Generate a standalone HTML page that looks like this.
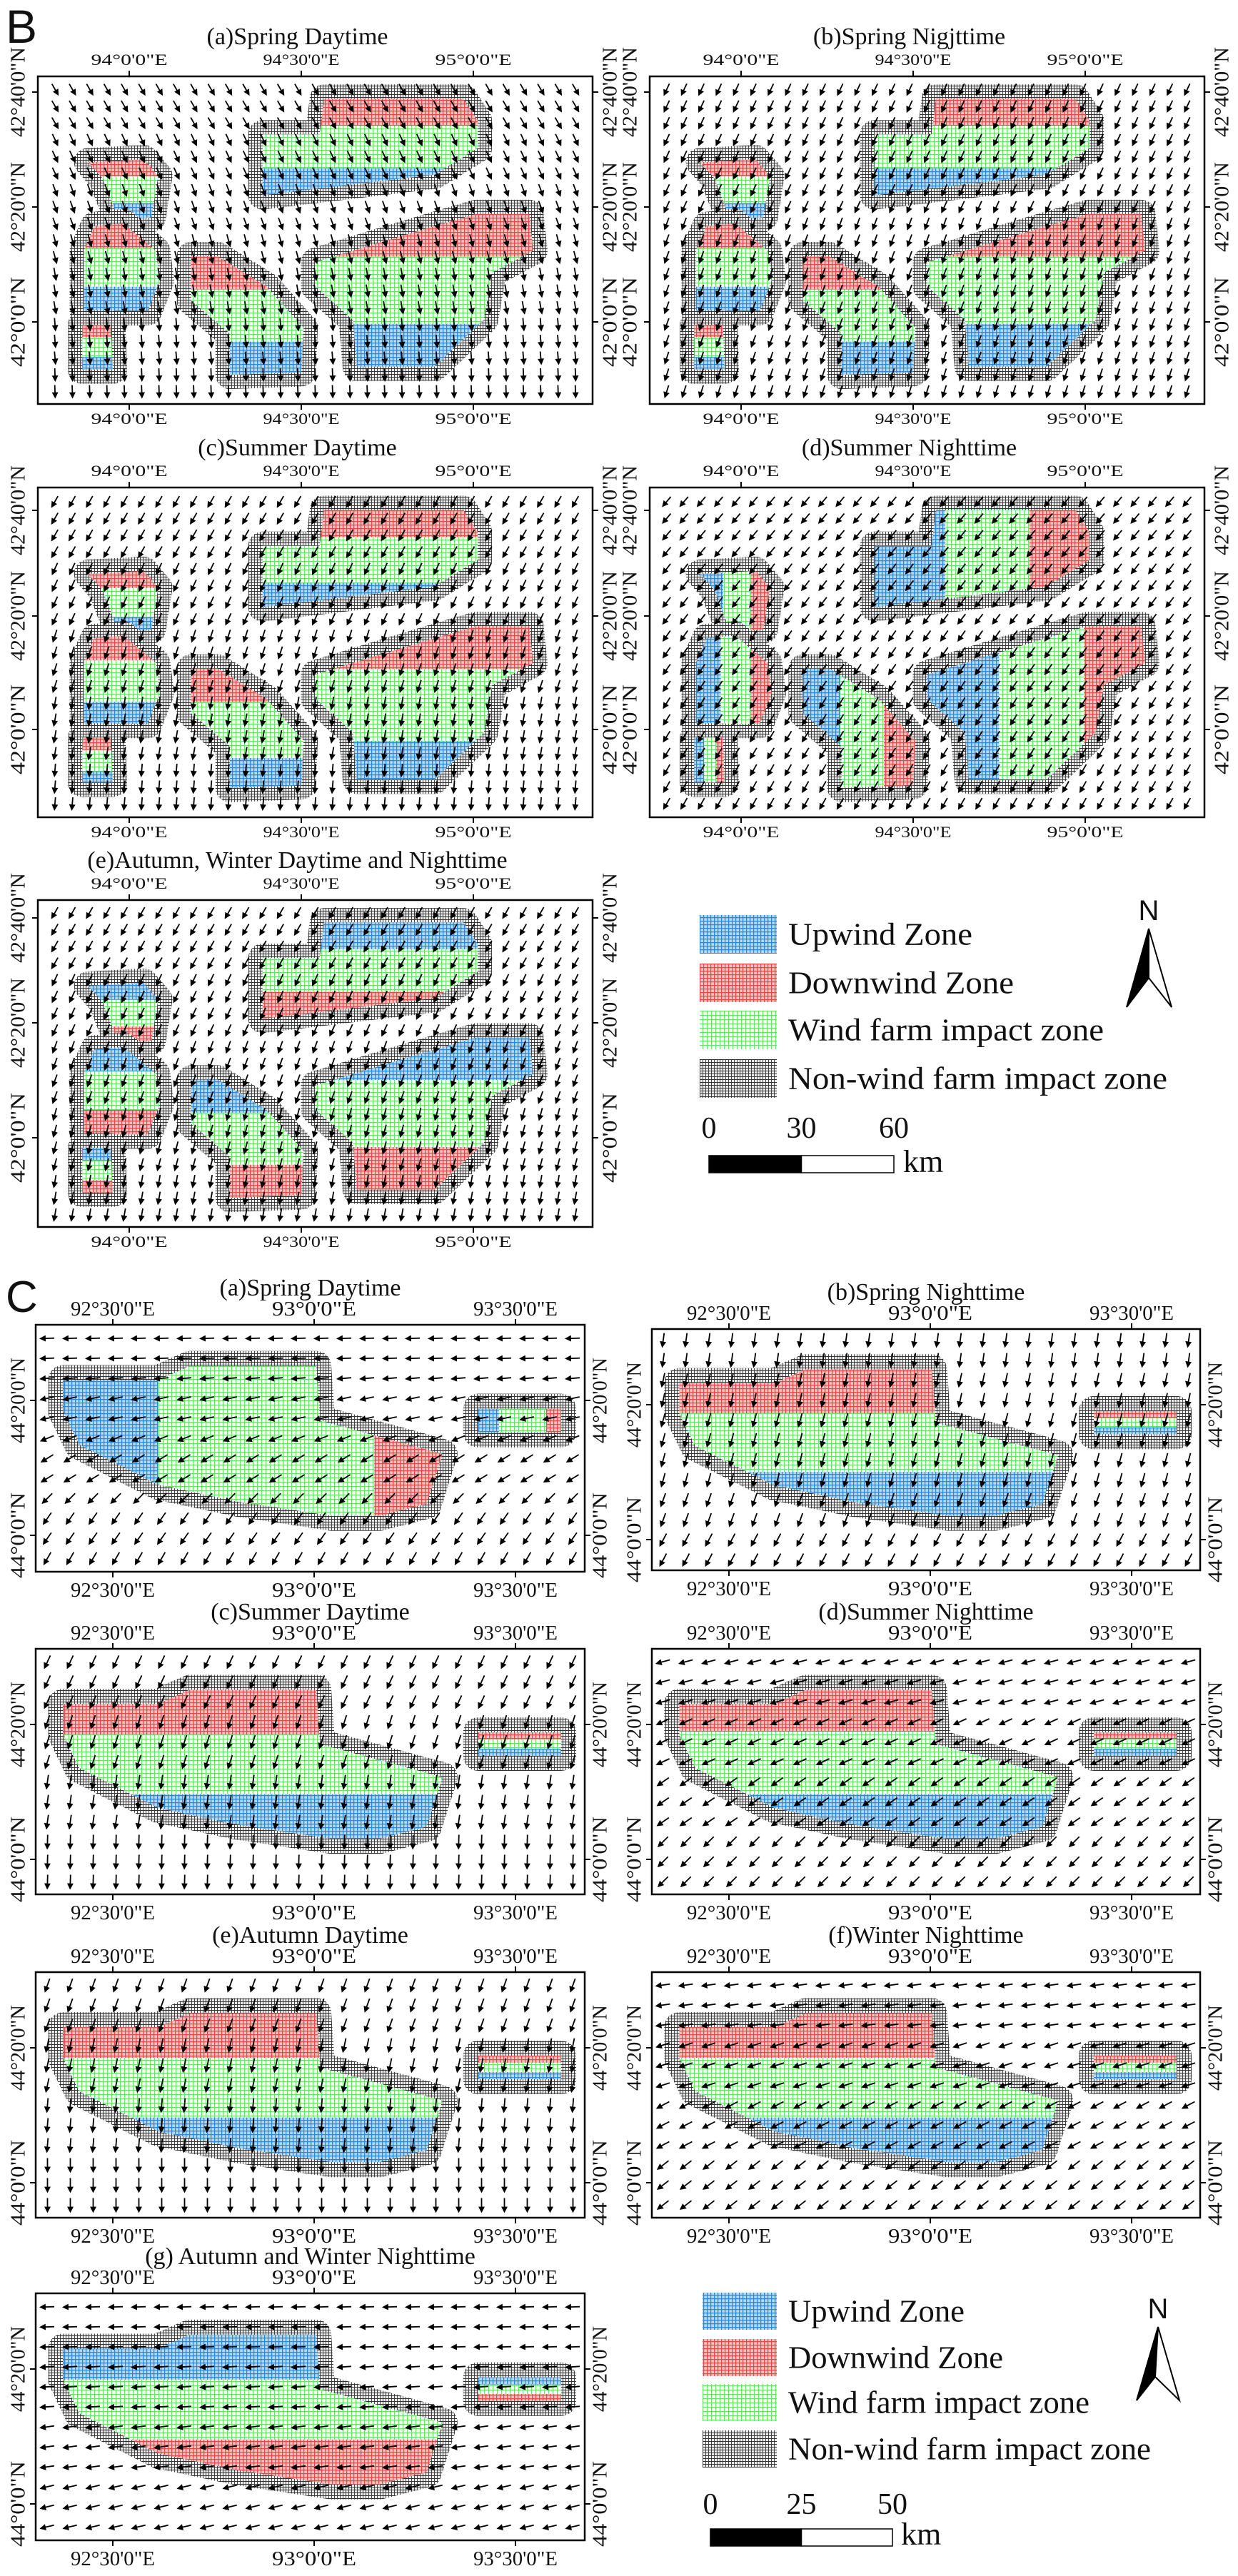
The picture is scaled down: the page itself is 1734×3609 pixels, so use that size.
<!DOCTYPE html>
<html><head><meta charset="utf-8"><title>Wind farm impact zones</title>
<style>
html,body{margin:0;padding:0;background:#fff;}
svg{display:block;}
</style></head>
<body>
<svg id="fig" xmlns="http://www.w3.org/2000/svg" width="1734" height="3609" viewBox="0 0 1734 3609">
<defs>
<pattern id="pBlue" patternUnits="userSpaceOnUse" width="5" height="5"><rect width="5" height="5" fill="#b5d8f2"/><path d="M0 0.6H5M0.6 0V5" stroke="#2f86d0" stroke-width="1.3"/></pattern>
<pattern id="pRed" patternUnits="userSpaceOnUse" width="5" height="5"><rect width="5" height="5" fill="#f7c0c0"/><path d="M0 0.6H5M0.6 0V5" stroke="#e04a4a" stroke-width="1.3"/></pattern>
<pattern id="pGreen" patternUnits="userSpaceOnUse" width="6" height="6"><rect width="6" height="6" fill="#f6fdf6"/><path d="M0 0.5H6M0.6 0V6" stroke="#6ade6a" stroke-width="1.1"/></pattern>
<pattern id="pGray" patternUnits="userSpaceOnUse" width="4" height="4"><rect width="4" height="4" fill="#ececec"/><path d="M0 0.5H4M0.5 0V4" stroke="#333" stroke-width="0.9"/></pattern>
</defs>
<g id="root"></g>
</svg>
<script>
// ---------- data ----------
const B_DIR_A = [150, 155, 160, 165, 170, 175, 178];
const B_DIR_B = [205, 205, 200, 200, 198];
const B_DIR_C = [210, 205, 198, 190, 185];
const B_DIR_D = [220, 218, 215, 212, 210];
const B_DIR_E = [210, 205, 200, 195, 190];
const C_DIR_A = [268, 265, 258, 248, 238, 225, 215, 210];
const C_DIR_B = [188, 192, 195, 195, 200, 208];
const C_DIR_C = [205, 198, 188, 182];
const C_DIR_D = [255, 245, 235, 225];
const C_DIR_E = [200, 192, 185, 180];
const C_DIR_F = [262, 252, 242, 232];
const C_DIR_G = [268, 266, 262, 256];
const B_BLOB_1 = [.405,.177,.508,.177,.516,.068,.767,.068,.793,.135,.793,.219,.715,.300,.405,.363];
const B_BLOB_2 = [.091,.262,.191,.253,.217,.304,.205,.430,.146,.439,.117,.312];
const B_BLOB_3 = [.102,.457,.154,.449,.213,.532,.220,.624,.198,.717,.083,.717,.083,.532];
const B_BLOB_4 = [.080,.758,.132,.758,.135,.895,.080,.895];
const B_BLOB_5 = [.276,.549,.324,.549,.412,.641,.479,.768,.475,.903,.346,.911,.346,.785,.276,.684];
const B_BLOB_6 = [.500,.567,.582,.525,.690,.470,.790,.420,.886,.420,.893,.532,.819,.599,.804,.743,.715,.886,.575,.886,.568,.743,.500,.641];
const C_BLOB_1 = [.050,.224,.223,.224,.281,.167,.511,.167,.518,.388,.741,.523,.712,.725,.626,.774,.540,.774,.367,.716,.223,.648,.079,.485,.050,.350];
const C_BLOB_2 = [.806,.340,.957,.340,.957,.436,.806,.436];
const B_TICK_X = ['94°0\'0"E', '94°30\'0"E', '95°0\'0"E'];
const B_TICK_Y = ['42°40\'0"N', '42°20\'0"N', '42°0\'0"N'];
const C_TICK_X = ['92°30\'0"E', '93°0\'0"E', '93°30\'0"E'];
const C_TICK_Y = ['44°20\'0"N', '44°0\'0"N'];
const LEGEND_LABELS = ['Upwind Zone', 'Downwind Zone', 'Wind farm impact zone', 'Non-wind farm impact zone'];
const LEGEND_FILLS = ['pBlue', 'pRed', 'pGreen', 'pGray'];
const B_SCALE = ['0', '30', '60'];
const C_SCALE = ['0', '25', '50'];

// ---------- layout ----------
const NS = 'http://www.w3.org/2000/svg';
const root = document.getElementById('root');
const SERIF = '"Liberation Serif", "Times New Roman", serif';
const SANS = '"Liberation Sans", Arial, sans-serif';

function mk(tag, attrs, parent) {
  const e = document.createElementNS(NS, tag);
  for (const k in attrs) e.setAttribute(k, attrs[k]);
  parent.appendChild(e);
  return e;
}
function txt(parent, x, y, s, size, len, opts) {
  opts = opts || {};
  const a = {x: x, y: y, 'font-size': size, 'font-family': opts.family || SERIF, 'text-anchor': opts.anchor || 'middle', fill: '#111'};
  if (len) { a.textLength = len; a.lengthAdjust = 'spacingAndGlyphs'; }
  if (opts.rot) { a.transform = 'rotate(-90 ' + x + ' ' + y + ')'; a['dominant-baseline'] = 'central'; }
  const t = mk('text', a, parent);
  t.textContent = s;
  return t;
}

const BANDS = { red: 'url(#pRed)', blue: 'url(#pBlue)' };

const B_PANELS = [
  {name: 'b-spring-daytime', title: '(a)Spring Daytime', x: 53, y: 107, w: 777, h: 459, yt: [22, 183, 344], dirs: B_DIR_A, band: ['v', 'red', 'blue', .28, .28]},
  {name: 'b-spring-nighttime', title: '(b)Spring Nigjttime', x: 910, y: 107, w: 777, h: 459, yt: [22, 183, 344], dirs: B_DIR_B, band: ['v', 'red', 'blue', .28, .28]},
  {name: 'b-summer-daytime', title: '(c)Summer Daytime', x: 53, y: 683, w: 777, h: 462, yt: [32, 180, 339], dirs: B_DIR_C, band: ['v', 'red', 'blue', .28, .25]},
  {name: 'b-summer-nighttime', title: '(d)Summer Nighttime', x: 910, y: 683, w: 777, h: 462, yt: [32, 180, 339], dirs: B_DIR_D, band: ['h', 'blue', 'red', .33, .28]},
  {name: 'b-autumn-winter', title: '(e)Autumn, Winter Daytime and Nighttime', x: 53, y: 1261, w: 777, h: 458, yt: [25, 172, 333], dirs: B_DIR_E, band: ['v', 'blue', 'red', .28, .28]}
];
const C_PANELS = [
  {name: 'c-spring-daytime', title: '(a)Spring Daytime', x: 50, y: 1856, w: 769, h: 346, dirs: C_DIR_A, band: ['h', 'blue', 'red', .25, .18]},
  {name: 'c-spring-nighttime', title: '(b)Spring Nighttime', x: 913, y: 1862, w: 768, h: 338, dirs: C_DIR_B, band: ['v', 'red', 'blue', .3, .3]},
  {name: 'c-summer-daytime', title: '(c)Summer Daytime', x: 50, y: 2310, w: 769, h: 344, dirs: C_DIR_C, band: ['v', 'red', 'blue', .3, .3]},
  {name: 'c-summer-nighttime', title: '(d)Summer Nighttime', x: 913, y: 2310, w: 768, h: 344, dirs: C_DIR_D, band: ['v', 'red', 'blue', .28, .3]},
  {name: 'c-autumn-daytime', title: '(e)Autumn Daytime', x: 50, y: 2763, w: 769, h: 344, dirs: C_DIR_E, band: ['v', 'red', 'blue', .3, .3]},
  {name: 'c-winter-nighttime', title: '(f)Winter Nighttime', x: 913, y: 2763, w: 768, h: 344, dirs: C_DIR_F, band: ['v', 'red', 'blue', .3, .3]},
  {name: 'c-autumn-winter-nighttime', title: '(g) Autumn and Winter Nighttime', x: 50, y: 3213, w: 769, h: 346, dirs: C_DIR_G, band: ['v', 'blue', 'red', .3, .3]}
];

let clipId = 0;
function drawBlob(g, P, pts, ring) {
  const xs = [], ys = [];
  for (let i = 0; i < pts.length; i += 2) { xs.push(P.x + pts[i] * P.w); ys.push(P.y + pts[i + 1] * P.h); }
  const ptsStr = xs.map((x, i) => x.toFixed(1) + ',' + ys[i].toFixed(1)).join(' ');
  const ringEl = mk('polygon', {points: ptsStr, fill: 'url(#pGray)', stroke: 'url(#pGray)', 'stroke-width': ring, 'stroke-linejoin': 'round'}, g);
  
  
  const id = 'clip' + (clipId++);
  const cp = mk('clipPath', {id: id}, g);
  mk('polygon', {points: ptsStr}, cp);
  const minx = Math.min(...xs), maxx = Math.max(...xs), miny = Math.min(...ys), maxy = Math.max(...ys);
  const bw = maxx - minx, bh = maxy - miny;
  const zg = mk('g', {'clip-path': 'url(#' + id + ')'}, g);
  const gr = mk('rect', {x: minx, y: miny, width: bw, height: bh, fill: 'url(#pGreen)'}, zg);
  
  
  const b = P.band;
  let r1, r2;
  if (b[0] === 'v') {
    r1 = mk('rect', {x: minx, y: miny, width: bw, height: bh * b[3], fill: BANDS[b[1]]}, zg);
    r2 = mk('rect', {x: minx, y: maxy - bh * b[4], width: bw, height: bh * b[4], fill: BANDS[b[2]]}, zg);
  } else {
    r1 = mk('rect', {x: minx, y: miny, width: bw * b[3], height: bh, fill: BANDS[b[1]]}, zg);
    r2 = mk('rect', {x: maxx - bw * b[4], y: miny, width: bw * b[4], height: bh, fill: BANDS[b[2]]}, zg);
  }
  
  
  
  
}

function drawArrows(g, P, dx, dy, L) {
  const cols = Math.floor(P.w / dx), rows = Math.floor(P.h / dy);
  for (let r = 0; r < rows; r++) {
    const ang = P.dirs[Math.min(P.dirs.length - 1, Math.floor(r / rows * P.dirs.length))] * Math.PI / 180;
    const ux = Math.sin(ang), uy = -Math.cos(ang);
    for (let c = 0; c < cols; c++) {
      const cx = P.x + dx / 2 + c * dx + (P.w - cols * dx) / 2, cy = P.y + dy / 2 + r * dy + (P.h - rows * dy) / 2;
      const hx = cx + ux * L / 2, hy = cy + uy * L / 2, tx = cx - ux * L / 2, ty = cy - uy * L / 2;
      const bx = hx - ux * 6, by = hy - uy * 6;
      const d = 'M' + tx.toFixed(1) + ' ' + ty.toFixed(1) + 'L' + bx.toFixed(1) + ' ' + by.toFixed(1) +
        'M' + hx.toFixed(1) + ' ' + hy.toFixed(1) + 'L' + (bx - uy * 3).toFixed(1) + ' ' + (by + ux * 3).toFixed(1) +
        'L' + (bx + uy * 3).toFixed(1) + ' ' + (by - ux * 3).toFixed(1) + 'Z';
      const a = mk('path', {d: d, stroke: '#000', 'stroke-width': 1.8, fill: '#000'}, g);
      
      
    }
  }
}

function drawPanel(P, sec) {
  const g = mk('g', {}, root);
  
  
  const isB = sec === 'B';
  const blobs = isB ? [B_BLOB_1, B_BLOB_2, B_BLOB_3, B_BLOB_4, B_BLOB_5, B_BLOB_6] : [C_BLOB_1, C_BLOB_2];
  const ring = isB ? 40 : 42;
  blobs.forEach(bp => drawBlob(g, P, bp, ring));
  drawArrows(g, P, isB ? 24.3 : 32, isB ? 23.5 : 28, isB ? 17 : 19);
  const fr = mk('rect', {x: P.x, y: P.y, width: P.w, height: P.h, fill: 'none', stroke: '#000', 'stroke-width': 2.5}, g);
  
  
  const tt = txt(g, P.x + P.w / 2 - (isB ? 25 : 0), P.y + (isB ? -45 : -41), P.title, 34, null);
  
  
  const xt = isB ? [128, 369, 610] : [108, 390, 672];
  const xl = isB ? B_TICK_X : C_TICK_X;
  const yt = isB ? P.yt : [106, 295];
  const yl = isB ? B_TICK_Y : C_TICK_Y;
  xl.forEach((lab, i) => {
    const x = P.x + xt[i];
    const t1 = mk('path', {d: 'M' + x + ' ' + (P.y - 8) + 'V' + P.y + 'M' + x + ' ' + (P.y + P.h) + 'V' + (P.y + P.h + 8), stroke: '#000', 'stroke-width': 2}, g);
    
    
    const la = txt(g, x, P.y + (isB ? -16 : -13), lab, isB ? 22 : 29, isB ? 107 : 118);
    
    
    const lb = txt(g, x, P.y + P.h + (isB ? 28 : 35), lab, isB ? 22 : 29, isB ? 107 : 118);
    
    
  });
  yl.forEach((lab, i) => {
    const y = P.y + yt[i];
    const t1 = mk('path', {d: 'M' + (P.x - 8) + ' ' + y + 'H' + P.x + 'M' + (P.x + P.w) + ' ' + y + 'H' + (P.x + P.w + 8), stroke: '#000', 'stroke-width': 2}, g);
    
    
    const la = txt(g, P.x - (isB ? 27 : 24), y, lab, 28, isB ? 126 : 120, {rot: true});
    
    
    const lb = txt(g, P.x + P.w + (isB ? 25 : 22), y, lab, 28, isB ? 126 : 120, {rot: true});
    
    
  });
}

B_PANELS.forEach(p => drawPanel(p, 'B'));
C_PANELS.forEach(p => drawPanel(p, 'C'));

function drawLegend(name, boxX, boxYs, boxW, boxH, textX, lens, fontSize, scale, scaleY, bar, kmX, kmY, north) {
  const g = mk('g', {}, root);
  
  
  LEGEND_LABELS.forEach((lab, i) => {
    const r = mk('rect', {x: boxX, y: boxYs[i], width: boxW, height: boxH, fill: 'url(#' + LEGEND_FILLS[i] + ')'}, g);
    
    
    const t = txt(g, textX, boxYs[i] + boxH / 2 + fontSize * 0.33, lab, fontSize, lens[i], {anchor: 'start'});
    
    
  });
  const sx = [bar[0], (bar[0] + bar[1]) / 2, bar[1]];
  scale.forEach((s, i) => {
    const t = txt(g, sx[i], scaleY, s, 42, null);
    
    
  });
  const b1 = mk('rect', {x: bar[0], y: bar[2], width: (bar[1] - bar[0]) / 2, height: bar[3], fill: '#000', stroke: '#000', 'stroke-width': 1.5}, g);
  
  
  const b2 = mk('rect', {x: (bar[0] + bar[1]) / 2, y: bar[2], width: (bar[1] - bar[0]) / 2, height: bar[3], fill: '#fff', stroke: '#000', 'stroke-width': 1.5}, g);
  
  
  const km = txt(g, kmX, kmY, 'km', 44, null, {anchor: 'start'});
  
  
  const [tx, ty, lx, by, nx, ny, rx] = north;
  const nl = mk('polygon', {points: tx + ',' + ty + ' ' + lx + ',' + by + ' ' + nx + ',' + ny, fill: '#000', stroke: '#000', 'stroke-width': 2}, g);
  
  
  const nr = mk('polygon', {points: tx + ',' + ty + ' ' + rx + ',' + by + ' ' + nx + ',' + ny, fill: '#fff', stroke: '#000', 'stroke-width': 2}, g);
  
  
  const nt = txt(g, tx, ty - 12, 'N', 40, null, {family: SANS});
  
  
}
drawLegend('legend-b', 980, [1282, 1350, 1416, 1484], 108, 54, 1104, [258, 316, 442, 531], 44, B_SCALE, 1594, [993, 1252, 1619, 24], 1265, 1642, [1609, 1301, 1578, 1411, 1609, 1370, 1641]);
drawLegend('legend-c', 984, [3212, 3277, 3340, 3405], 104, 52, 1104, [247, 301, 422, 508], 44, C_SCALE, 3522, [995, 1250, 3543, 24], 1262, 3565, [1622, 3260, 1592, 3363, 1618, 3330, 1652]);

const sb = txt(root, 8, 60, 'B', 66, null, {family: SANS, anchor: 'start'});


const sc = txt(root, 8, 1838, 'C', 62, null, {family: SANS, anchor: 'start'});


</script>
</body></html>
